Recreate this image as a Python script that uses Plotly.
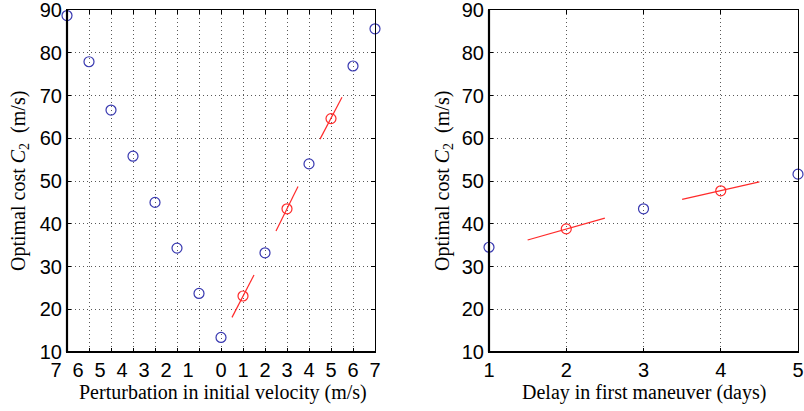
import plotly.graph_objects as go

# ---------------- data ----------------
# Left panel: perturbation in initial velocity (m/s)
left_tick_vals = [-7, -6, -5, -4, -3, -2, -1, 0, 1, 2, 3, 4, 5, 6, 7]
left_tick_text = ["7", "6", "5", "4", "3", "2", "1", "0", "1", "2", "3", "4", "5", "6", "7"]
left_blue_x = [-7, -6, -5, -4, -3, -2, -1, 0, 2, 4, 6, 7]
left_blue_y = [88.7, 77.9, 66.6, 55.8, 45.0, 34.3, 23.7, 13.4, 33.2, 54.0, 76.9, 85.6]
left_red_x = [1, 3, 5]
left_red_y = [23.1, 43.5, 64.6]
left_seg_x0 = [0.5, 2.5, 4.5]
left_seg_x1 = [1.5, 3.5, 5.5]
left_seg_y0 = [18.1, 38.3, 59.8]
left_seg_y1 = [28.0, 48.7, 69.6]

# Right panel: delay in first maneuver (days)
right_tick_vals = [1, 2, 3, 4, 5]
right_blue_x = [1, 3, 5]
right_blue_y = [34.5, 43.5, 51.6]
right_red_x = [2, 4]
right_red_y = [38.8, 47.7]
right_seg_x0 = [1.5, 3.5]
right_seg_x1 = [2.5, 4.5]
right_seg_y0 = [36.2, 45.7]
right_seg_y1 = [41.3, 49.8]

y_ticks = [10, 20, 30, 40, 50, 60, 70, 80, 90]

BLUE = "#3838b0"
RED = "#ff2a2a"
W, H = 804, 411


def segs(x0, x1, y0, y1):
    xs, ys = [], []
    for a, b, c, d in zip(x0, x1, y0, y1):
        xs += [a, b, None]
        ys += [c, d, None]
    return xs, ys


fig = go.Figure()

# negative-side labels are drawn on an overlaying axis, shifted left as in the original
main_text = [t if v >= 0 else "" for v, t in zip(left_tick_vals, left_tick_text)]
neg_vals = [v for v in left_tick_vals if v < 0]
neg_text = [t for v, t in zip(left_tick_vals, left_tick_text) if v < 0]

# invisible carrier trace so the overlaying label axis gets drawn
fig.add_trace(go.Scatter(x=neg_vals, y=[None] * len(neg_vals), mode="markers",
                         marker=dict(opacity=0), xaxis="x3", yaxis="y",
                         showlegend=False, hoverinfo="skip"))

# Left panel traces
sx, sy = segs(left_seg_x0, left_seg_x1, left_seg_y0, left_seg_y1)
fig.add_trace(go.Scatter(x=sx, y=sy, mode="lines", line=dict(color=RED, width=1.2),
                         xaxis="x", yaxis="y", showlegend=False, hoverinfo="skip"))
fig.add_trace(go.Scatter(x=left_blue_x, y=left_blue_y, mode="markers",
                         marker=dict(symbol="circle-open", size=10, color=BLUE, line=dict(width=1.2)),
                         xaxis="x", yaxis="y", showlegend=False, cliponaxis=False))
fig.add_trace(go.Scatter(x=left_red_x, y=left_red_y, mode="markers",
                         marker=dict(symbol="circle-open", size=10, color=RED, line=dict(width=1.2)),
                         xaxis="x", yaxis="y", showlegend=False, cliponaxis=False))

# Right panel traces
sx, sy = segs(right_seg_x0, right_seg_x1, right_seg_y0, right_seg_y1)
fig.add_trace(go.Scatter(x=sx, y=sy, mode="lines", line=dict(color=RED, width=1.2),
                         xaxis="x2", yaxis="y2", showlegend=False, hoverinfo="skip"))
fig.add_trace(go.Scatter(x=right_blue_x, y=right_blue_y, mode="markers",
                         marker=dict(symbol="circle-open", size=10, color=BLUE, line=dict(width=1.2)),
                         xaxis="x2", yaxis="y2", showlegend=False, cliponaxis=False))
fig.add_trace(go.Scatter(x=right_red_x, y=right_red_y, mode="markers",
                         marker=dict(symbol="circle-open", size=10, color=RED, line=dict(width=1.2)),
                         xaxis="x2", yaxis="y2", showlegend=False, cliponaxis=False))

TICKFONT = dict(family="Liberation Sans, Arial, sans-serif", size=20, color="black")
TITLEFONT = dict(family="Liberation Serif, Times New Roman, serif", size=20, color="black")
GRID = dict(showgrid=True, gridcolor="rgba(0,0,0,0.65)", gridwidth=1, griddash="1px,3px")

common_ax = dict(showline=True, linecolor="black", linewidth=1, mirror="ticks",
                 ticks="inside", ticklen=4, tickcolor="black", tickwidth=1,
                 zeroline=False, tickfont=TICKFONT, automargin=False,
                 ticklabeloverflow="allow", tickangle=0, **GRID)

yd = [1 - 352 / H, 1 - 10 / H]
lx = [67 / W, 375 / W]
rx = [489 / W, 798 / W]

fig.update_layout(
    width=W, height=H,
    margin=dict(l=0, r=0, t=0, b=0),
    paper_bgcolor="white", plot_bgcolor="white",
    xaxis=dict(domain=lx, range=[-7, 7], tickmode="array", tickvals=left_tick_vals,
               ticktext=main_text, anchor="y", ticklabelstandoff=0, **common_ax),
    xaxis3=dict(domain=lx, range=[-7, 7], tickmode="array", tickvals=neg_vals,
                ticktext=neg_text, overlaying="x", anchor="y", side="bottom",
                showgrid=False, showline=False, ticks="", zeroline=False,
                tickfont=TICKFONT, automargin=False, ticklabeloverflow="allow",
                tickangle=0, ticklabelstandoff=4, ticklabelshift=-11),
    yaxis=dict(domain=yd, range=[10, 90], tickmode="array", tickvals=y_ticks,
               anchor="x", ticklabelstandoff=0, **common_ax),
    xaxis2=dict(domain=rx, range=[1, 5], tickmode="array", tickvals=right_tick_vals,
                anchor="y2", ticklabelstandoff=0, **common_ax),
    yaxis2=dict(domain=yd, range=[10, 90], tickmode="array", tickvals=y_ticks,
                anchor="x2", ticklabelstandoff=0, **common_ax),
)

# thicker left / bottom axis lines
for xr, yr in (("x", "y"), ("x2", "y2")):
    fig.add_shape(type="line", xref=xr + " domain", yref=yr + " domain", x0=0, x1=1, y0=0, y1=0,
                  line=dict(color="black", width=2.2))
    fig.add_shape(type="line", xref=xr + " domain", yref=yr + " domain", x0=0, x1=0, y0=0, y1=1,
                  line=dict(color="black", width=2.2))

ytitle = "Optimal cost <i>C</i><sub>2</sub>  (m/s)"
fig.add_annotation(text=ytitle, xref="paper", yref="paper", x=19 / W, y=1 - 181 / H,
                   textangle=-90, showarrow=False, xanchor="center", yanchor="middle", font=TITLEFONT)
fig.add_annotation(text=ytitle, xref="paper", yref="paper", x=443 / W, y=1 - 181 / H,
                   textangle=-90, showarrow=False, xanchor="center", yanchor="middle", font=TITLEFONT)
fig.add_annotation(text="Perturbation in initial velocity (m/s)", xref="paper", yref="paper",
                   x=223 / W, y=1 - 392 / H, showarrow=False, xanchor="center", yanchor="middle",
                   font=TITLEFONT)
fig.add_annotation(text="Delay in first maneuver (days)", xref="paper", yref="paper",
                   x=644 / W, y=1 - 392 / H, showarrow=False, xanchor="center", yanchor="middle",
                   font=TITLEFONT)

fig.write_html("out.html", config={"displayModeBar": False},
               post_script="document.body.style.margin='0';document.body.style.padding='0';")
